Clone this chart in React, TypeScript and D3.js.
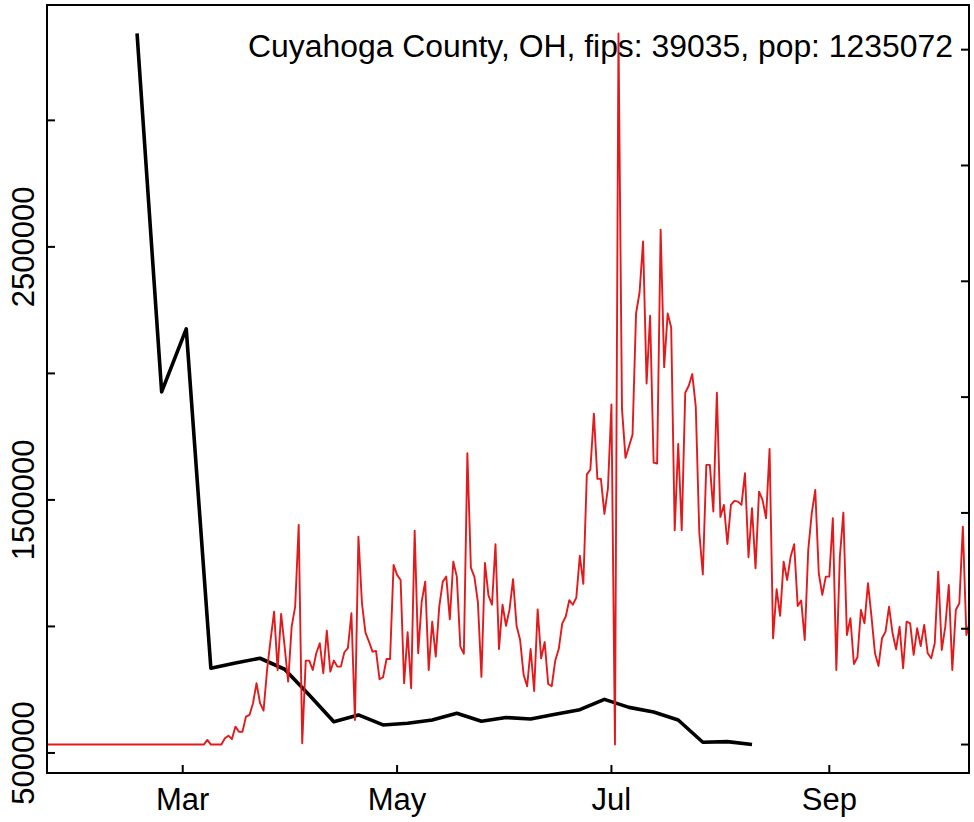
import React from "react";
import * as d3 from "d3";

// ---- data ----
const titleText = "Cuyahoga County, OH, fips: 39035, pop: 1235072";

// weekly series (black, left axis)
const blackDates = [
  "2020-02-17", "2020-02-24", "2020-03-02", "2020-03-09", "2020-03-16", "2020-03-23",
  "2020-03-30", "2020-04-06", "2020-04-13", "2020-04-20", "2020-04-27", "2020-05-04",
  "2020-05-11", "2020-05-18", "2020-05-25", "2020-06-01", "2020-06-08", "2020-06-15",
  "2020-06-22", "2020-06-29", "2020-07-06", "2020-07-13", "2020-07-20", "2020-07-27",
  "2020-08-03", "2020-08-10",
];
const blackValues = [
  3343500, 1926900, 2175900, 834800, 855700, 874300,
  830800, 729300, 623700, 650200, 610700, 617400,
  630400, 656900, 625300, 639900, 634400, 653000,
  671100, 711900, 680200, 662100, 630400, 542300,
  544700, 533200,
];

// daily series (red, right axis), starting 2020-01-22
const redStart = "2020-01-22";
const redValues = [
  // Jan 22 - Feb 29
  0, 0, 0, 0, 0, 0, 0, 0, 0, 0,
  0, 0, 0, 0, 0, 0, 0, 0, 0, 0,
  0, 0, 0, 0, 0, 0, 0, 0, 0, 0,
  0, 0, 0, 0, 0, 0, 0, 0, 0,
  // Mar 1 ...
  0, 0, 0, 0, 0, 0, 0, 4.0, 0, 0,
  0, 0, 5.4, 7.7, 4.8, 15.5, 11.1, 11.1, 24.1, 25.6,
  35.7, 52.9, 35.7, 29.3, 64.4, 90.3, 114.8, 64.4, 112.8, 84.5,
  54.3, 101.8, 119.1, 189.6, 1.1, 72.5, 72.5, 64.4, 78.8, 87.5,
  61.6, 98.4, 63.0, 72.5, 67.3, 67.3, 79.7, 83.2, 113.4, 21.2,
  179.5, 122.0, 96.6, 88.9, 80.2, 80.8, 56.4, 58.1, 73.9, 73.9,
  155.1, 146.5, 142.1, 52.9, 97.0, 48.6, 184.7, 78.8, 123.4, 140.7,
  64.4, 106.1, 75.9, 119.1, 140.7, 145.0, 108.2, 157.9, 145.0, 84.5,
  78.4, 251.5, 152.8, 144.8, 122.7, 58.4, 156.9, 128.8, 120.7, 173.0,
  82.5, 120.7, 102.6, 116.7, 142.8, 102.6, 90.5, 60.4, 50.3, 82.5,
  46.3, 116.7, 74.4, 88.5, 52.3, 50.3, 72.4, 82.5, 104.6, 110.6,
  124.7, 120.7, 126.8, 163.0, 138.8, 233.3, 237.4, 285.7, 229.4, 229.4,
  199.1, 221.3, 293.7, 0, 614, 289.8, 247.5, 257.5, 267.6, 372.2,
  390.3, 434.5, 311.8, 370.2, 243.4, 242.7, 444.6, 325.9, 372.2, 360.1,
  185.1, 259.6, 185.1, 303.8, 309.8, 319.9, 291.7, 183.1, 146.9, 241.5,
  241.5, 201.2, 303.8, 196.6, 206.9, 173.2, 206.9, 210.4, 209.8, 206.9,
  234.3, 161.7, 204.1, 152.2, 218.4, 211.2, 195.4, 255.3, 91.8, 134.1,
  111.1, 157.9, 142.1, 162.3, 173.0, 119.7, 124.3, 90.3, 168.0, 199.7,
  219.9, 147.9, 129.2, 145.0, 145.0, 195.4, 64.4, 162.3, 200.3, 94.6,
  109.1, 69.6, 75.4, 116.2, 104.7, 139.3, 110.4, 78.8, 67.9, 91.8,
  97.5, 119.1, 96.1, 82.3, 101.8, 65.9, 106.1, 104.7, 77.4, 100.4,
  85.1, 103.3, 78.8, 74.5, 87.5, 149.3, 81.7, 101.8, 137.8, 64.4,
  116.2, 122.0, 188.2, 94.6, 107, 125,
];

const leftTicks = [500000, 1000000, 1500000, 2000000, 2500000, 3000000];
const leftTickLabels = ["500000", "", "1500000", "", "2500000", ""];
const rightTicks = [0, 100, 200, 300, 400, 500, 600];
const monthTicks = ["2020-03-01", "2020-05-01", "2020-07-01", "2020-09-01"];
const monthLabels = ["Mar", "May", "Jul", "Sep"];

// ---- layout ----
const W = 974;
const H = 822;
const L = 47, R = 969, T = 5, B = 773;
const FONT = "'Liberation Sans', Arial, Helvetica, sans-serif";

const parse = (s: string) => new Date(s + "T00:00:00Z");

export default function App() {
  const x = d3
    .scaleUtc()
    .domain([new Date(Date.UTC(2020, 0, 22, 9)), new Date(Date.UTC(2020, 9, 10, 18))])
    .range([L, R]);

  const dataTop = T + 0.04 * (B - T) / 1.08;
  const dataBot = B - 0.04 * (B - T) / 1.08;

  const yL = d3
    .scaleLinear()
    .domain([d3.min(blackValues)!, d3.max(blackValues)!])
    .range([dataBot, dataTop]);
  const yR = d3
    .scaleLinear()
    .domain([d3.min(redValues)!, d3.max(redValues)!])
    .range([dataBot, dataTop]);

  const start = parse(redStart);
  const redPts: [Date, number][] = redValues.map((v, i) => [d3.utcDay.offset(start, i), v]);
  const blackPts: [Date, number][] = blackDates.map((d, i) => [parse(d), blackValues[i]]);

  const redLine = d3
    .line<[Date, number]>()
    .x((d) => x(d[0]))
    .y((d) => yR(d[1]));
  const blackLine = d3
    .line<[Date, number]>()
    .x((d) => x(d[0]))
    .y((d) => yL(d[1]));

  const tickLen = 8;

  return (
    <svg
      width={W}
      height={H}
      style={{ position: "absolute", left: 0, top: 0, display: "block", background: "#fff" }}
      fontFamily={FONT}
    >
      <defs>
        <clipPath id="plotclip">
          <rect x={L} y={T} width={R - L} height={B - T} />
        </clipPath>
      </defs>
      <rect x={0} y={0} width={W} height={H} fill="#fff" />

      <g clipPath="url(#plotclip)">
        <path d={blackLine(blackPts) || ""} fill="none" stroke="#000" strokeWidth={3.6} strokeLinejoin="round" />
        <path d={redLine(redPts) || ""} fill="none" stroke="#e31a1c" strokeWidth={1.9} strokeLinejoin="round" />
      </g>

      {/* frame */}
      <rect x={L} y={T} width={R - L} height={B - T} fill="none" stroke="#000" strokeWidth={2} />

      {/* left axis ticks */}
      {leftTicks.map((t, i) => (
        <g key={"l" + t}>
          <line x1={L} x2={L + tickLen} y1={yL(t)} y2={yL(t)} stroke="#000" strokeWidth={2} />
          {leftTickLabels[i] && (
            <text
              transform={`translate(${33.5},${yL(t)}) rotate(-90)`}
              textAnchor="middle"
              fontSize={31}
              fill="#000"
            >
              {leftTickLabels[i]}
            </text>
          )}
        </g>
      ))}

      {/* right axis ticks */}
      {rightTicks.map((t) => (
        <line key={"r" + t} x1={R - tickLen} x2={R} y1={yR(t)} y2={yR(t)} stroke="#000" strokeWidth={2} />
      ))}

      {/* bottom axis */}
      {monthTicks.map((m, i) => {
        const px = x(parse(m));
        return (
          <g key={m}>
            <line x1={px} x2={px} y1={B} y2={B - tickLen} stroke="#000" strokeWidth={2} />
            <text x={px} y={810} textAnchor="middle" fontSize={31} fill="#000">
              {monthLabels[i]}
            </text>
          </g>
        );
      })}

      {/* title */}
      <text x={953} y={57} textAnchor="end" fontSize={31} fill="#000" textLength={705} lengthAdjust="spacingAndGlyphs">
        {titleText}
      </text>
    </svg>
  );
}
